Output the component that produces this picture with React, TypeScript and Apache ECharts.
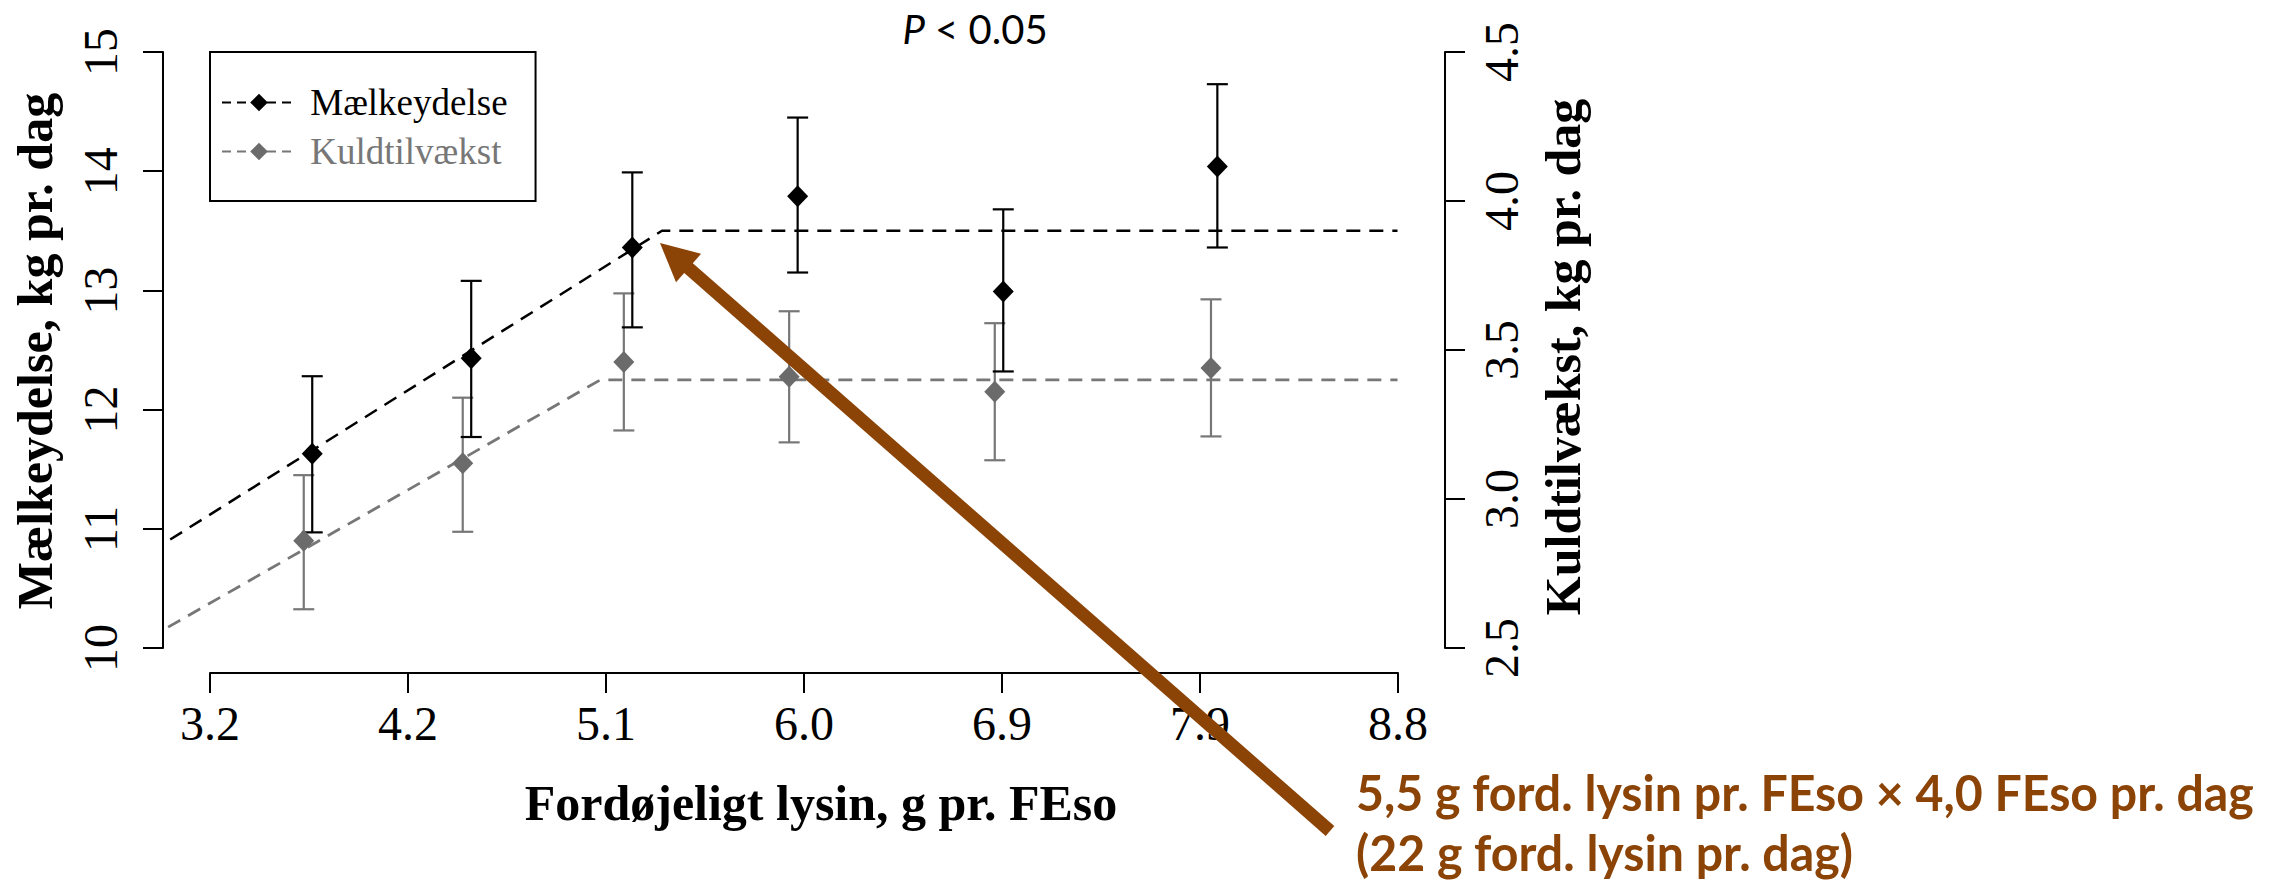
import React, { useEffect, useRef } from 'react';
import * as echarts from 'echarts';

// ---- data ----
const xTickLabels = ['3.2', '4.2', '5.1', '6.0', '6.9', '7.9', '8.8'];
const leftTicks = [10, 11, 12, 13, 14, 15];
const rightTicks = [2.5, 3.0, 3.5, 4.0, 4.5];

// Mælkeydelse (left axis, kg/dag)
const milkX = [3.68, 4.43, 5.19, 5.97, 6.94, 7.95];
const milkMean = [11.63, 12.43, 13.36, 13.79, 12.99, 14.04];
const milkLow = [10.97, 11.77, 12.69, 13.15, 12.32, 13.36];
const milkHigh = [12.28, 13.08, 13.99, 14.45, 13.68, 14.73];
const milkFitX = [3.01, 5.33, 8.8];
const milkFitY = [10.91, 13.5, 13.5];

// Kuldtilvækst (right axis, kg/dag)
const litterX = [3.64, 4.39, 5.15, 5.93, 6.9, 7.92];
const litterMean = [2.86, 3.12, 3.46, 3.41, 3.36, 3.44];
const litterLow = [2.63, 2.89, 3.23, 3.19, 3.13, 3.21];
const litterHigh = [3.08, 3.34, 3.69, 3.63, 3.59, 3.67];
const litterFitX = [3.0, 5.04, 8.8];
const litterFitY = [2.57, 3.4, 3.4];

// x extent of the plotting region (lysine units)
const xPlotMin = 2.976;
const xPlotMax = 9.024;

const SERIF = '"Liberation Serif", "Times New Roman", serif';
const SANS = 'Lato, "Open Sans", sans-serif';
const BROWN = '#8b4306';
const GRAY = '#6b6b6b';
const GRAY_LINE = '#777777';

const zip = (a: number[], b: number[]) => a.map((v, i) => [v, b[i]]);
const zip3 = (a: number[], b: number[], c: number[]) => a.map((v, i) => [v, b[i], c[i]]);

function errorBarRender(color: string) {
  return (params: any, api: any) => {
    const x = api.value(0);
    const lo = api.coord([x, api.value(1)]);
    const hi = api.coord([x, api.value(2)]);
    const hw = 10.5;
    const style = { stroke: color, lineWidth: 2.2 };
    return {
      type: 'group',
      children: [
        { type: 'line', shape: { x1: lo[0], y1: lo[1], x2: hi[0], y2: hi[1] }, style },
        { type: 'line', shape: { x1: lo[0] - hw, y1: lo[1], x2: lo[0] + hw, y2: lo[1] }, style },
        { type: 'line', shape: { x1: hi[0] - hw, y1: hi[1], x2: hi[0] + hw, y2: hi[1] }, style },
      ],
    };
  };
}

const axisLineStyle = { show: true, onZero: false, lineStyle: { color: '#000', width: 2 } };
const axisTickStyle = { show: true, inside: false, length: 20, lineStyle: { color: '#000', width: 2 } };

// arrow geometry (annotation)
const tip = [660, 243];
const tail = [1330, 831];
const len = Math.hypot(tail[0] - tip[0], tail[1] - tip[1]);
const u = [(tail[0] - tip[0]) / len, (tail[1] - tip[1]) / len];
const pp = [u[1], -u[0]];
const headLen = 38;
const headHalf = 19;
const base = [tip[0] + headLen * u[0], tip[1] + headLen * u[1]];
const shaftEnd = [tip[0] + 30 * u[0], tip[1] + 30 * u[1]];

function buildOption() {
  return {
    animation: false,
    backgroundColor: '#ffffff',
    grid: [
      { left: 163, top: 52, width: 1282, height: 596 },
      { left: 210, top: 52, width: 1188, height: 621 },
    ],
    xAxis: [
      { gridIndex: 0, type: 'value', min: xPlotMin, max: xPlotMax, show: false },
      {
        gridIndex: 1,
        type: 'value',
        min: 0,
        max: xTickLabels.length - 1,
        interval: 1,
        position: 'bottom',
        axisLine: axisLineStyle,
        axisTick: axisTickStyle,
        splitLine: { show: false },
        axisLabel: {
          margin: 26,
          fontFamily: SERIF,
          fontSize: 48,
          color: '#000',
          showMinLabel: true,
          showMaxLabel: true,
          formatter: (v: number) => xTickLabels[Math.round(v)] ?? '',
        },
      },
    ],
    yAxis: [
      {
        gridIndex: 0,
        type: 'value',
        min: leftTicks[0],
        max: leftTicks[leftTicks.length - 1],
        interval: 1,
        position: 'left',
        axisLine: axisLineStyle,
        axisTick: axisTickStyle,
        splitLine: { show: false },
        axisLabel: { rotate: 90, margin: 39, fontFamily: SERIF, fontSize: 48, color: '#000' },
      },
      {
        gridIndex: 0,
        type: 'value',
        min: rightTicks[0],
        max: rightTicks[rightTicks.length - 1],
        interval: 0.5,
        position: 'right',
        axisLine: axisLineStyle,
        axisTick: axisTickStyle,
        splitLine: { show: false },
        axisLabel: {
          rotate: 90,
          margin: 32,
          fontFamily: SERIF,
          fontSize: 48,
          color: '#000',
          formatter: (v: number) => v.toFixed(1),
        },
      },
      { gridIndex: 1, type: 'value', show: false },
    ],
    legend: {
      show: true,
      orient: 'vertical',
      left: 210,
      top: 52,
      padding: [32, 28, 31, 11],
      itemGap: 12,
      itemWidth: 74,
      itemHeight: 22,
      borderColor: '#000',
      borderWidth: 2,
      borderRadius: 0,
      backgroundColor: '#fff',
      selectedMode: false,
      formatter: (name: string) => ' ' + name,
      textStyle: { fontFamily: SERIF, fontSize: 37, color: '#000' },
      lineStyle: { type: [9, 6], width: 2 },
      data: [
        { name: 'Mælkeydelse', textStyle: { color: '#000' } },
        { name: 'Kuldtilvækst', textStyle: { color: '#777' } },
      ],
    },
    series: [
      {
        name: 'Mælkeydelse',
        type: 'line',
        xAxisIndex: 0,
        yAxisIndex: 0,
        data: zip(milkFitX, milkFitY),
        symbol: 'diamond',
        showSymbol: false,
        color: '#000',
        lineStyle: { color: '#000', width: 2.5, type: [14, 9] },
        silent: true,
        z: 2,
      },
      {
        name: 'Kuldtilvækst',
        type: 'line',
        xAxisIndex: 0,
        yAxisIndex: 1,
        data: zip(litterFitX, litterFitY),
        symbol: 'diamond',
        showSymbol: false,
        color: GRAY,
        lineStyle: { color: GRAY_LINE, width: 2.8, type: [14, 9] },
        silent: true,
        z: 2,
      },
      {
        name: 'Kuldtilvækst SE',
        type: 'custom',
        xAxisIndex: 0,
        yAxisIndex: 1,
        data: zip3(litterX, litterLow, litterHigh),
        encode: { x: 0, y: [1, 2] },
        renderItem: errorBarRender(GRAY_LINE),
        silent: true,
        z: 3,
      },
      {
        name: 'Mælkeydelse SE',
        type: 'custom',
        xAxisIndex: 0,
        yAxisIndex: 0,
        data: zip3(milkX, milkLow, milkHigh),
        encode: { x: 0, y: [1, 2] },
        renderItem: errorBarRender('#000'),
        silent: true,
        z: 3,
      },
      {
        name: 'Kuldtilvækst',
        type: 'scatter',
        xAxisIndex: 0,
        yAxisIndex: 1,
        data: zip(litterX, litterMean),
        symbol: 'diamond',
        symbolSize: [21, 22],
        itemStyle: { color: GRAY, opacity: 1 },
        silent: true,
        z: 4,
      },
      {
        name: 'Mælkeydelse',
        type: 'scatter',
        xAxisIndex: 0,
        yAxisIndex: 0,
        data: zip(milkX, milkMean),
        symbol: 'diamond',
        symbolSize: [21, 22],
        itemStyle: { color: '#000', opacity: 1 },
        silent: true,
        z: 5,
      },
    ],
    graphic: [
      {
        type: 'text',
        x: 975,
        y: 29,
        style: {
          text: '{i|P} < 0.05',
          rich: { i: { fontStyle: 'italic', fontFamily: SANS, fontSize: 40, fill: '#000' } },
          fontFamily: SANS,
          fontSize: 40,
          fill: '#000',
          align: 'center',
          verticalAlign: 'middle',
          textAlign: 'center',
          textVerticalAlign: 'middle',
        },
      },
      {
        type: 'text',
        x: 35,
        y: 351,
        rotation: Math.PI / 2,
        style: {
          text: 'Mælkeydelse, kg pr. dag',
          fontFamily: SERIF,
          fontWeight: 'bold',
          fontSize: 50,
          fill: '#000',
          align: 'center',
          verticalAlign: 'middle',
          textAlign: 'center',
          textVerticalAlign: 'middle',
        },
      },
      {
        type: 'text',
        x: 1563,
        y: 357,
        rotation: Math.PI / 2,
        style: {
          text: 'Kuldtilvækst, kg pr. dag',
          fontFamily: SERIF,
          fontWeight: 'bold',
          fontSize: 50,
          fill: '#000',
          align: 'center',
          verticalAlign: 'middle',
          textAlign: 'center',
          textVerticalAlign: 'middle',
        },
      },
      {
        type: 'text',
        x: 821,
        y: 803,
        style: {
          text: 'Fordøjeligt lysin, g pr. FEso',
          fontFamily: SERIF,
          fontWeight: 'bold',
          fontSize: 50,
          fill: '#000',
          align: 'center',
          verticalAlign: 'middle',
          textAlign: 'center',
          textVerticalAlign: 'middle',
        },
      },
      {
        type: 'line',
        z: 100,
        shape: { x1: tail[0], y1: tail[1], x2: shaftEnd[0], y2: shaftEnd[1] },
        style: { stroke: BROWN, lineWidth: 13 },
      },
      {
        type: 'polygon',
        z: 100,
        shape: {
          points: [
            [tip[0], tip[1]],
            [base[0] + headHalf * pp[0], base[1] + headHalf * pp[1]],
            [base[0] - headHalf * pp[0], base[1] - headHalf * pp[1]],
          ],
        },
        style: { fill: BROWN },
      },
      {
        type: 'text',
        x: 1356,
        y: 792,
        scaleX: 0.965,
        z: 100,
        style: {
          text: '5,5 g ford. lysin pr. FEso × 4,0 FEso pr. dag',
          fontFamily: SANS,
          fontWeight: 'bold',
          fontSize: 50,
          fill: BROWN,
          align: 'left',
          verticalAlign: 'middle',
          textAlign: 'left',
          textVerticalAlign: 'middle',
        },
      },
      {
        type: 'text',
        x: 1356,
        y: 852,
        scaleX: 0.965,
        z: 100,
        style: {
          text: '(22 g ford. lysin pr. dag)',
          fontFamily: SANS,
          fontWeight: 'bold',
          fontSize: 50,
          fill: BROWN,
          align: 'left',
          verticalAlign: 'middle',
          textAlign: 'left',
          textVerticalAlign: 'middle',
        },
      },
    ],
  };
}

export default function App() {
  const ref = useRef<HTMLDivElement>(null);
  useEffect(() => {
    document.body.style.margin = '0';
    if (!ref.current) return;
    const chart = echarts.init(ref.current, undefined, { renderer: 'svg' });
    chart.setOption(buildOption() as any);
    return () => chart.dispose();
  }, []);
  return <div ref={ref} style={{ width: 2275, height: 885 }} />;
}
